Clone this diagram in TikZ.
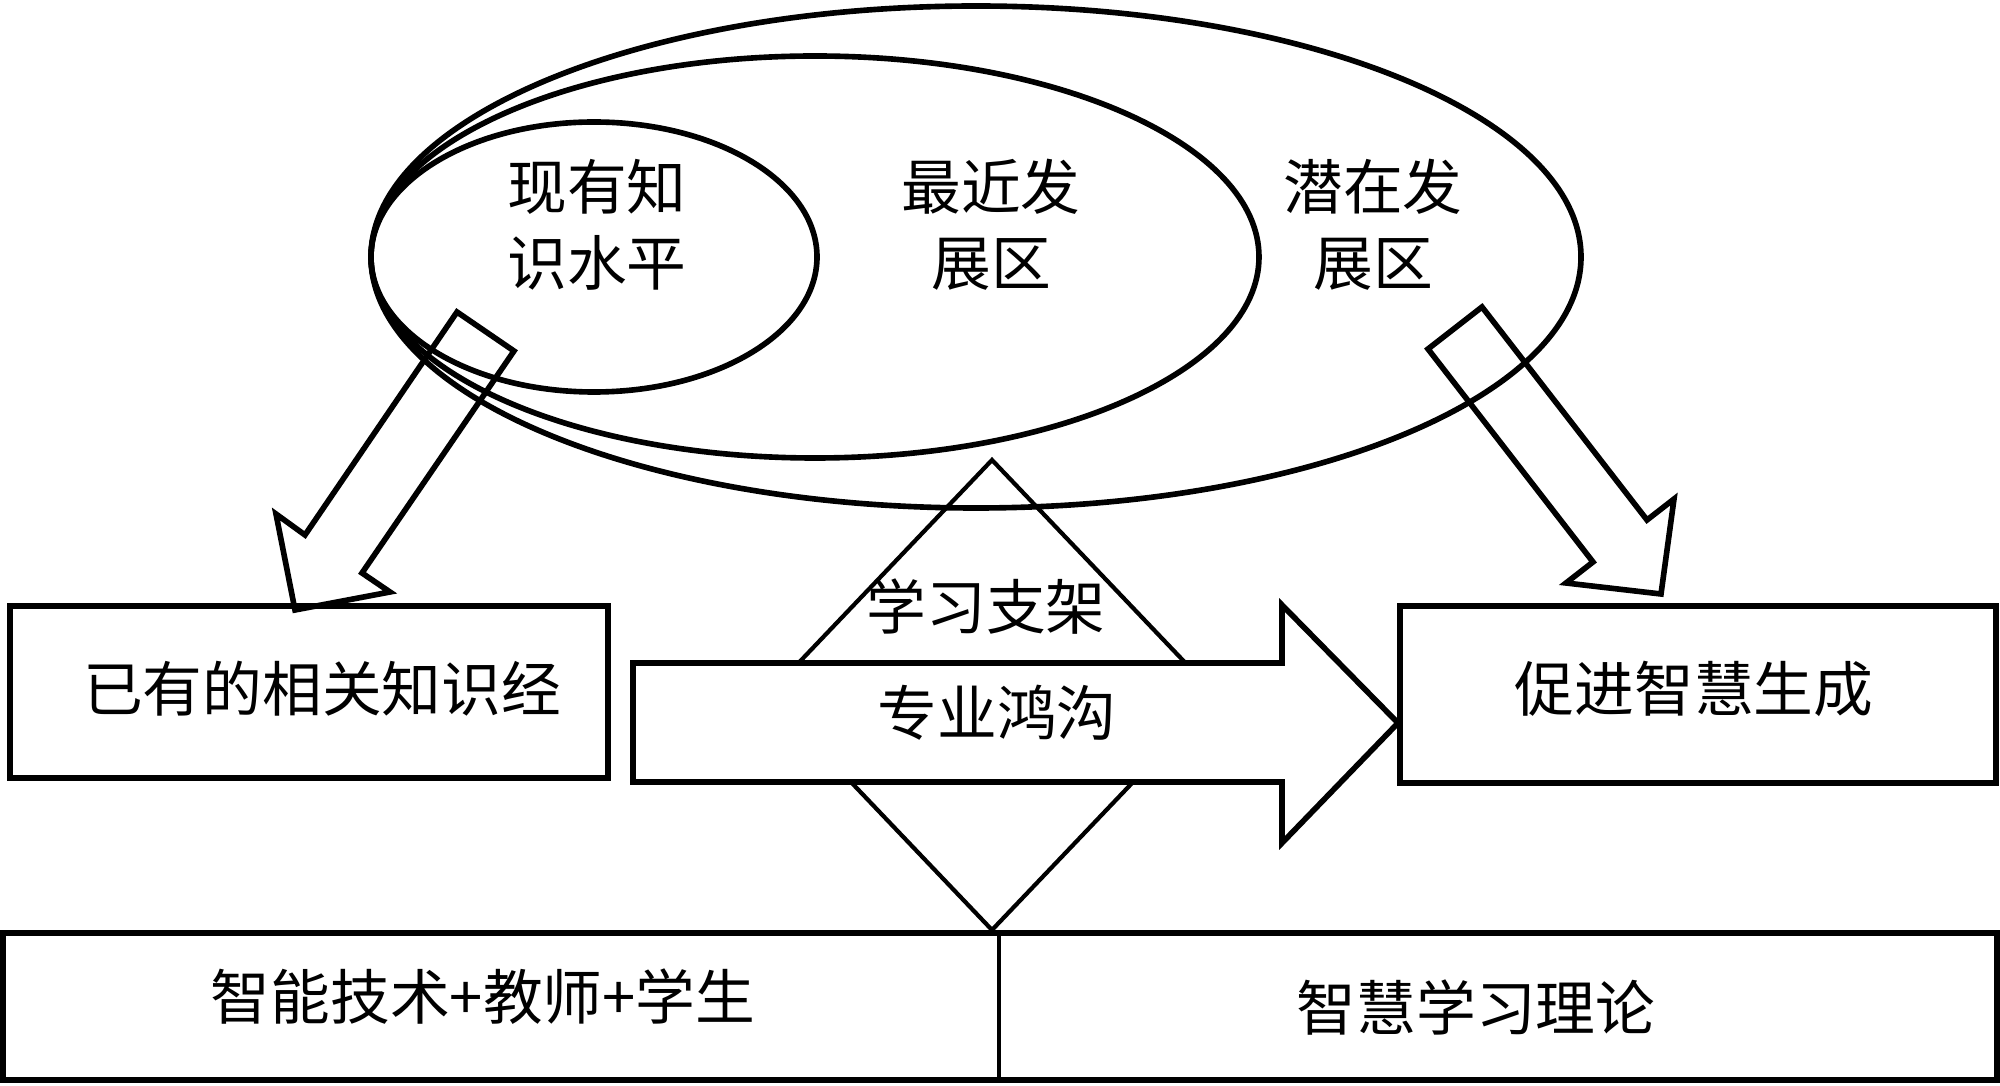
\documentclass[tikz,border=0pt]{standalone}
\usepackage{fontspec}
\newfontfamily\cjk{Noto Sans CJK SC}
\usepackage{tikz}

\begin{document}
\begin{tikzpicture}[
    line/.style={line width=1.6pt, line join=miter},
    thin line/.style={line width=1.2pt},
    lbl/.style={font=\cjk\fontsize{17}{21.6}\selectfont, align=center, inner sep=0pt}
  ]
        \useasboundingbox (0,0) rectangle (20,10.85);

        % Zones
        \draw[line] (9.76,8.28) ellipse [x radius=6.05, y radius=2.51];
        \draw[line] (8.15,8.28) ellipse [x radius=4.44, y radius=2.01];
        \draw[line] (5.94,8.28) ellipse [x radius=2.23, y radius=1.35];
        \node[lbl] (actual) at (5.97,8.60) {现有知\\识水平};
        \node[lbl] (zpd) at (9.91,8.60) {最近发\\展区};
        \node[lbl] (potential) at (13.73,8.60) {潜在发\\展区};

        % Block arrows
        \draw[line] (4.57,7.73) -- (3.05,5.50) -- (2.76,5.71) -- (2.95,4.75)
          -- (3.90,4.93) -- (3.62,5.12) -- (5.14,7.34) -- cycle;
        \draw[line] (14.82,7.78) -- (14.28,7.36) -- (15.93,5.23) -- (15.66,5.02)
          -- (16.61,4.91) -- (16.74,5.86) -- (16.47,5.65) -- cycle;

        % Scaffold and gap
        \draw[thin line] (9.92,6.25) -- (12.16,3.90) -- (9.92,1.55) -- (7.68,3.90) -- cycle;
        \draw[line, fill=white] (6.33,4.22) -- (12.82,4.22) -- (12.82,4.80) -- (13.98,3.62)
          -- (12.82,2.42) -- (12.82,3.03) -- (6.33,3.03) -- cycle;
        \node[lbl] (scaffold) at (9.86,4.78) {学习支架};
        \node[lbl] (gap) at (9.97,3.72) {专业鸿沟};

        % Boxes
        \draw[line] (0.10,3.07) rectangle (6.08,4.79);
        \node[lbl] (prior) at (3.22,3.96) {已有的相关知识经};
        \draw[line] (14.00,3.02) rectangle (19.96,4.79);
        \node[lbl] (wisdom) at (16.94,3.96) {促进智慧生成};
        \draw[line] (0.03,0.05) rectangle (19.97,1.52);
        \draw[thin line] (9.99,0.05) -- (9.99,1.52);
        \node[lbl] (tech) at (4.83,0.88) {智能技术+教师+学生};
        \node[lbl] (theory) at (14.76,0.77) {智慧学习理论};
      \end{tikzpicture}
\end{document}
